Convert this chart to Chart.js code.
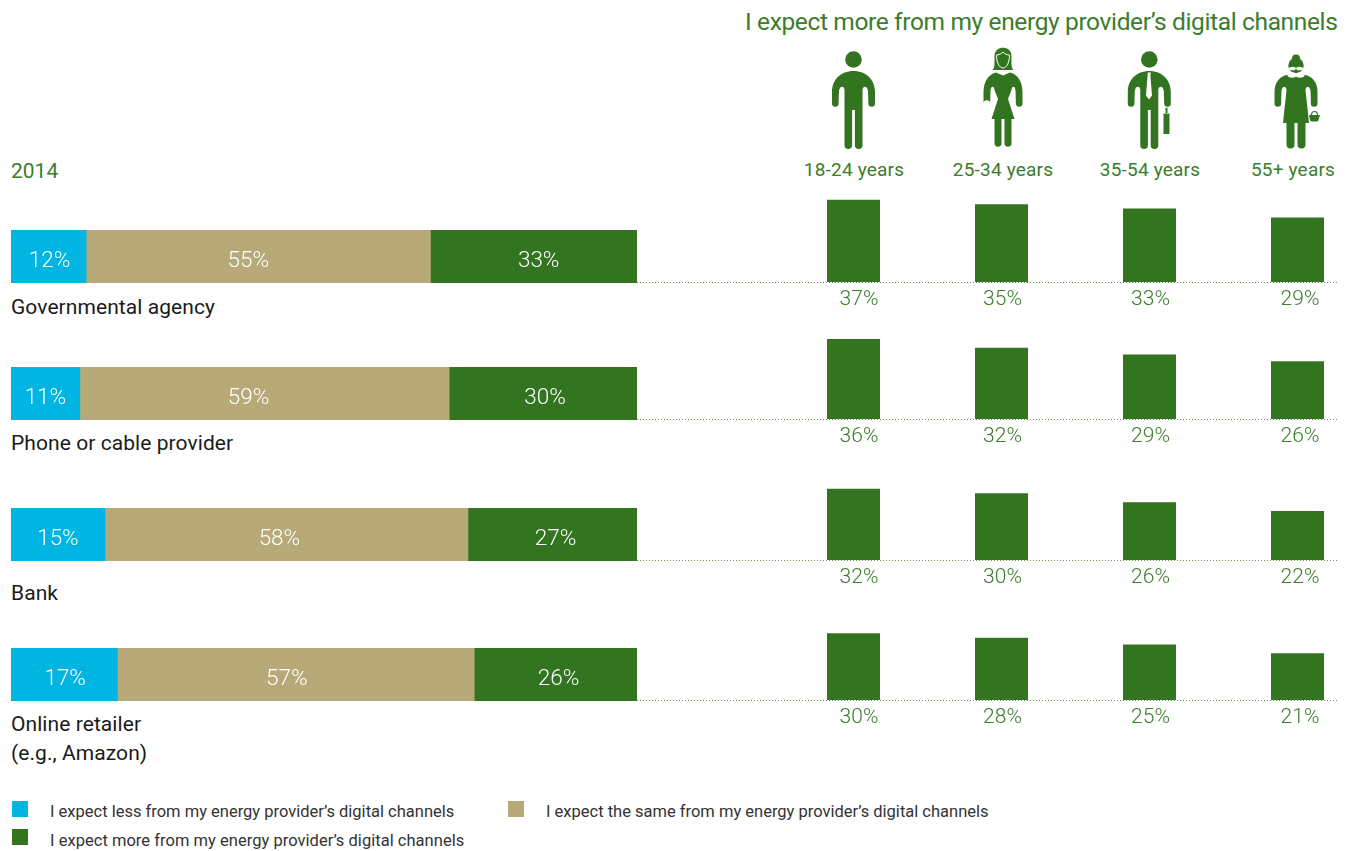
<!DOCTYPE html>
<html>
<head>
<meta charset="utf-8">
<title>Digital channel expectations</title>
<script src="https://cdn.jsdelivr.net/npm/chart.js@4"></script>
<style>
  html, body { margin: 0; padding: 0; background: #fff; }
  #page { position: relative; width: 1351px; height: 851px; overflow: hidden; font-family: Roboto, sans-serif; }
  #page div.t { position: absolute; white-space: nowrap; line-height: 1; }
  canvas { position: absolute; }
  .green { color: #3b7d2c; }
  .row-name { font-size: 21px; color: #1a1a1a; letter-spacing: .07px; }
  .age { font-size: 19px; letter-spacing: .2px; transform: translateX(-50%); }
  .legend { font-size: 16.5px; color: #333; }
  .swatch { position: absolute; width: 16px; height: 16px; }
</style>
</head>
<body>
<div id="page">
  <div class="t green" style="left:745px;top:10px;font-size:24.5px;letter-spacing:-.36px">I expect more from my energy provider’s digital channels</div>
  <div class="t green" style="left:11px;top:161px;font-size:21px">2014</div>

  <svg width="1351" height="160" style="position:absolute;left:0;top:0" fill="#327420">
    <defs>
      <g id="man">
        <path d="M0 71C13 71 21.500 80 21.500 92V103.500A3.300 3.300 0 0 1 14.900 103.500L14.500 91C14 86 9.500 85 9 90V145.200A3.800 3.800 0 0 1 1.400 145.200V110H-1.400V145.200A3.800 3.800 0 0 1 -9 145.200V90C-9.500 85 -14 86 -14.500 91L-14.900 103.500A3.300 3.300 0 0 1 -21.500 103.500V92C-21.500 80 -13 71 0 71Z"/>
        <circle cx="0" cy="59.500" r="8.300"/>
      </g>
    </defs>
    <!-- young man -->
    <use href="#man" x="853.500"/>
    <!-- woman -->
    <g transform="translate(1003 0)">
      <path d="M-10.500 70C-8 68-8.500 62-8.500 56C-8.500 50-4 47.700 0 47.700C4 47.700 8.500 50 8.500 56C8.500 62 8 68 10.500 70Z"/>
      <path d="M-6.500 55C-3 55-1 53 0 52C1 53 3 55 6.500 55C6.500 62 4 68 0 68C-4 68-6.500 62-6.500 55Z" stroke="#fff" stroke-width="1"/>
      <path d="M0 75.500L-7 72.500C-14 74-19.500 81-19.500 92V103.500A3.300 3.300 0 0 1 -12.900 103.500L-12.500 91C-12.500 86-9 85-8.500 90L-5 99L-11.500 119H-8.500V144.500A3.800 3.800 0 0 0 -1.500 144.500V119H1.500V144.500A3.800 3.800 0 0 0 8.500 144.500V119H11.500L5 99L8.500 90C9 85 12.500 86 12.500 91L12.900 103.500A3.300 3.300 0 0 0 19.500 103.500V92C19.500 81 14 74 7 72.500Z"/>
    </g>
    <!-- businessman -->
    <use href="#man" x="1149.300"/>
    <path fill="#fff" d="M1147.800 72.500h3l-.4 3 1.600 20-3 4-3-4 1.600-20z"/>
    <rect x="1165.500" y="107.700" width="2" height="5.300"/>
    <rect x="1163.500" y="113.500" width="6" height="20.500"/>
    <!-- older woman -->
    <g transform="translate(1296 0)">
      <circle cx="0" cy="58.500" r="4"/>
      <circle cx="0" cy="65.500" r="7.700"/>
      <path d="M-9 75C-16 76-21.500 82-21.500 92V103.500A3.300 3.300 0 0 0 -14.900 103.500L-14.500 91C-14 86-10 85-9.500 90L-13 123H-9.500V144.500A3.800 3.800 0 0 0 -1.500 144.500V123H1.500V144.500A3.800 3.800 0 0 0 9.500 144.500V123H13L9.500 90C10 85 14 86 14.500 91L14.900 103.500A3.300 3.300 0 0 0 21.500 103.500V92C21.500 82 16 76 9 75Z"/>
      <ellipse cx="-4" cy="75" rx="4.500" ry="2.800" fill="#fff"/>
      <ellipse cx="4" cy="75" rx="4.500" ry="2.800" fill="#fff"/>
      <ellipse cx="-3.500" cy="68.500" rx="3.400" ry="1.800" fill="#fff"/>
      <ellipse cx="3.500" cy="68.500" rx="3.400" ry="1.800" fill="#fff"/>
      <path d="M13 115h11l-1.500 5a2 2 0 0 1-2 1.500h-4.500a2 2 0 0 1-2-1.500z"/>
      <path d="M15.500 115a3 3.500 0 0 1 6 0" fill="none" stroke="#327420" stroke-width="1.200"/>
    </g>
  </svg>

  <div class="t green age" style="left:854px;top:160px">18-24 years</div>
  <div class="t green age" style="left:1003px;top:160px">25-34 years</div>
  <div class="t green age" style="left:1150px;top:160px">35-54 years</div>
  <div class="t green age" style="left:1293px;top:160px">55+ years</div>

  <div class="t row-name" style="left:11px;top:297px">Governmental agency</div>
  <div class="t row-name" style="left:11px;top:433px">Phone or cable provider</div>
  <div class="t row-name" style="left:11px;top:583px">Bank</div>
  <div class="t row-name" style="left:11px;top:714px">Online retailer</div>
  <div class="t row-name" style="left:11px;top:743px">(e.g., Amazon)</div>

  <span class="swatch" style="left:12px;top:801px;background:#00b5e2"></span>
  <div class="t legend" style="left:50px;top:804px">I expect less from my energy provider’s digital channels</div>
  <span class="swatch" style="left:508px;top:801px;background:#b8a978"></span>
  <div class="t legend" style="left:546px;top:804px">I expect the same from my energy provider’s digital channels</div>
  <span class="swatch" style="left:12px;top:829px;background:#327420"></span>
  <div class="t legend" style="left:50px;top:833px;letter-spacing:.03px">I expect more from my energy provider’s digital channels</div>
</div>

<script>
const rowNames = ['Governmental agency', 'Phone or cable provider', 'Bank', 'Online retailer'];
const ageGroups = ['18-24 years', '25-34 years', '35-54 years', '55+ years'];

const expectLess = [12, 11, 15, 17];
const expectSame = [55, 59, 58, 57];
const expectMore = [33, 30, 27, 26];

const governmentByAge = [37, 35, 33, 29];
const phoneByAge = [36, 32, 29, 26];
const bankByAge = [32, 30, 26, 22];
const retailerByAge = [30, 28, 25, 21];
const byAge = [governmentByAge, phoneByAge, bankByAge, retailerByAge];

const BLUE = '#00b5e2', TAN = '#b8a978', GREEN = '#327420', TEXT_GREEN = '#3b7d2c';

// baseline of each row on the page
const rowBottom = [283, 420, 561, 701];

// horizontal shift of the white labels per segment, per row
const insideNudge = [
  [1, -10, 5],
  [0, -16, 2],
  [0, -7, 3],
  [1, -9, 3]
];

// white percentages inside the stacked segments
const insideLabels = {
  id: 'insideLabels',
  afterDatasetsDraw(chart) {
    const c = chart.ctx;
    c.save();
    c.font = '300 22.5px Roboto, sans-serif';
    c.fillStyle = '#fff';
    c.textAlign = 'center';
    c.textBaseline = 'middle';
    chart.data.datasets.forEach((ds, i) => {
      const bar = chart.getDatasetMeta(i).data[0];
      c.fillText(ds.data[0] + '%', (bar.x + bar.base) / 2 + insideNudge[chart.options.rowIndex][i], bar.y + 5);
    });
    c.restore();
  }
};

// green percentages under the age bars
const labelNudge = [5.5, 1, 1, 2.5];
const belowLabels = {
  id: 'belowLabels',
  afterDatasetsDraw(chart) {
    const c = chart.ctx;
    c.save();
    c.font = '300 21px Roboto, sans-serif';
    c.fillStyle = TEXT_GREEN;
    c.textAlign = 'center';
    c.textBaseline = 'middle';
    chart.getDatasetMeta(0).data.forEach((bar, i) => {
      c.fillText(chart.data.datasets[0].data[i] + '%', bar.x + labelNudge[i], chart.scales.y.bottom + 18);
    });
    c.restore();
  }
};

// dotted line running from the end of the stacked bar towards the right edge
const dottedBase = {
  id: 'dottedBase',
  beforeDatasetsDraw(chart) {
    const c = chart.ctx, y = chart.scales.y.bottom + 0.5;
    c.save();
    c.strokeStyle = '#5f9350';
    c.setLineDash([1, 2]);
    c.beginPath();
    c.moveTo(0, y);
    c.lineTo(700, y);
    c.stroke();
    c.restore();
  }
};

function addCanvas(left, top, width, height) {
  const canvas = document.createElement('canvas');
  canvas.style.left = left + 'px';
  canvas.style.top = top + 'px';
  canvas.style.width = width + 'px';
  canvas.style.height = height + 'px';
  canvas.width = width;
  canvas.height = height;
  document.getElementById('page').appendChild(canvas);
  return canvas;
}

const hiddenAxis = { display: false, grid: { display: false } };

rowNames.forEach((name, r) => {
  new Chart(addCanvas(11, rowBottom[r] - 53, 626, 53), {
    type: 'bar',
    plugins: [insideLabels],
    data: {
      labels: [name],
      datasets: [
        { label: 'less', data: [expectLess[r]], backgroundColor: BLUE },
        { label: 'same', data: [expectSame[r]], backgroundColor: TAN },
        { label: 'more', data: [expectMore[r]], backgroundColor: GREEN }
      ]
    },
    options: {
      rowIndex: r,
      indexAxis: 'y',
      responsive: false,
      animation: false,
      plugins: { legend: { display: false }, tooltip: { enabled: false } },
      scales: {
        x: { ...hiddenAxis, stacked: true, min: 0, max: 100 },
        y: { ...hiddenAxis, stacked: true }
      },
      datasets: { bar: { categoryPercentage: 1, barPercentage: 1 } }
    }
  });

  // 148px per category; the last category runs past the page edge and gets clipped
  const bottomGap = 30;
  new Chart(addCanvas(637, rowBottom[r] - 110, 735, 109 + bottomGap), {
    type: 'bar',
    plugins: [dottedBase, belowLabels],
    data: {
      labels: ageGroups,
      datasets: [{ label: name, data: byAge[r], backgroundColor: GREEN }]
    },
    options: {
      responsive: false,
      animation: false,
      layout: { padding: { left: 142.5, right: 0.5, bottom: bottomGap } },
      plugins: { legend: { display: false }, tooltip: { enabled: false } },
      scales: {
        x: { ...hiddenAxis },
        y: { ...hiddenAxis, min: 0, max: 49 }
      },
      datasets: { bar: { categoryPercentage: 53 / 148, barPercentage: 1 } }
    }
  });
});
</script>
</body>
</html>
